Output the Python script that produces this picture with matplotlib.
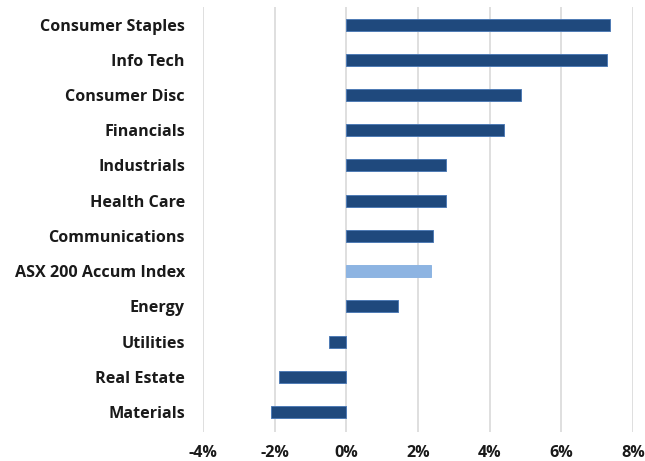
import matplotlib
matplotlib.use("Agg")
import matplotlib.pyplot as plt
from matplotlib.ticker import FuncFormatter

categories = ["Consumer Staples", "Info Tech", "Consumer Disc", "Financials",
              "Industrials", "Health Care", "Communications", "ASX 200 Accum Index",
              "Energy", "Utilities", "Real Estate", "Materials"]
values = [7.35, 7.28, 4.87, 4.41, 2.79, 2.79, 2.42, 2.37, 1.45, -0.47, -1.89, -2.1]
highlight = "ASX 200 Accum Index"
xticks = [-4, -2, 0, 2, 4, 6, 8]

plt.rcParams['font.family'] = ['Open Sans', 'DejaVu Sans']

fig = plt.figure(figsize=(6.45, 4.61), dpi=100)
ax = fig.add_axes([0.3147, 0.0636, 0.6667, 0.9214])

ypos = list(range(len(categories)))
colors = ["#8DB4E2" if c == highlight else "#1F497D" for c in categories]
edges = ["#8DB4E2" if c == highlight else "#4F7BB5" for c in categories]
ax.barh(ypos, values, height=0.34, color=colors, edgecolor=edges, linewidth=0.7, zorder=3)

ax.set_yticks(ypos)
ax.set_yticklabels(categories, fontsize=11.6, fontweight='bold', color='#1a1a1a')
ax.set_ylim(len(categories) - 0.44, -0.5)
ax.set_xlim(-4, 8)
ax.set_xticks(xticks)
ax.xaxis.set_major_formatter(FuncFormatter(lambda v, p: f"{v:.0f}%"))
for lbl in ax.get_xticklabels():
    lbl.set_fontweight('bold')
    lbl.set_fontsize(11.6)
    lbl.set_color('#1a1a1a')
ax.tick_params(axis='both', length=0)
ax.tick_params(axis='y', pad=13)
ax.tick_params(axis='x', pad=9.5)
ax.grid(axis='x', color='#D9D9D9', linewidth=1.2, zorder=0)
for s in ax.spines.values():
    s.set_visible(False)

fig.savefig("out.png", dpi=100)
